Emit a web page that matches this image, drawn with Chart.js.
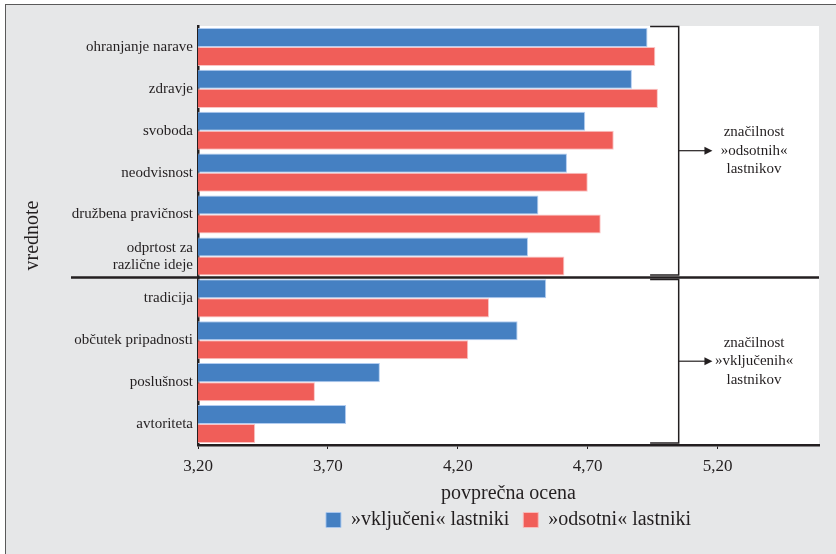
<!DOCTYPE html>
<html>
<head>
<meta charset="utf-8">
<script src="https://cdn.jsdelivr.net/npm/chart.js@4.4.1/dist/chart.umd.min.js"></script>
<style>
  body { margin: 0; background: #fff; }
  .frame { position: absolute; left: 5px; top: 4px; width: 831px; height: 550px; background: #e6e7e8;
           border-left: 1px solid #5a5a5a; border-top: 1px solid #5a5a5a; box-sizing: border-box; }
  #valuesChart { position: absolute; left: 0; top: 0; }
</style>
</head>
<body>
<div class="frame"></div>
<canvas id="valuesChart" width="836" height="554"></canvas>
<script>
  const categories = [
    'ohranjanje narave', 'zdravje', 'svoboda', 'neodvisnost', 'družbena pravičnost',
    ['odprtost za', 'različne ideje'], 'tradicija', 'občutek pripadnosti', 'poslušnost', 'avtoriteta'
  ];
  const includedOwners = [4.93, 4.87, 4.69, 4.62, 4.51, 4.47, 4.54, 4.43, 3.90, 3.77];
  const absentOwners = [4.96, 4.97, 4.80, 4.70, 4.75, 4.61, 4.32, 4.24, 3.65, 3.42];
  const seriesNames = ['»vključeni« lastniki', '»odsotni« lastniki'];
  const xTicks = [3.20, 3.70, 4.20, 4.70, 5.20];
  const groupNotes = [
    ['značilnost', '»odsotnih«', 'lastnikov'],
    ['značilnost', '»vključenih«', 'lastnikov']
  ];

  const ink = '#231f20';
  const serif = 'Liberation Serif';

  // white plot area, group separator, brackets and notes
  const groupBrackets = {
    id: 'groupBrackets',
    beforeDraw(chart) {
      const {ctx, chartArea: a} = chart;
      ctx.save();
      ctx.fillStyle = '#fff';
      ctx.fillRect(a.left, a.top, a.right - a.left, a.bottom - a.top);
      ctx.restore();
    },
    afterDraw(chart) {
      const {ctx, chartArea: a, scales: {x, y}} = chart;
      const sepY = (y.getPixelForValue(5) + y.getPixelForValue(6)) / 2;
      ctx.save();
      ctx.strokeStyle = ink;
      ctx.fillStyle = ink;
      ctx.lineWidth = 2.5;
      ctx.beginPath();
      ctx.moveTo(71, sepY);
      ctx.lineTo(a.right, sepY);
      ctx.stroke();

      const bx0 = x.getPixelForValue(4.94), bx1 = x.getPixelForValue(5.05);
      const arrowEnd = x.getPixelForValue(5.18), textX = x.getPixelForValue(5.34);
      const spans = [[a.top + 0.5, sepY - 2.5], [sepY + 2, a.bottom - 2]];
      ctx.font = '15px "' + serif + '"';
      ctx.textAlign = 'center';
      ctx.textBaseline = 'middle';
      spans.forEach(([t, b], i) => {
        ctx.lineWidth = 1.5;
        ctx.beginPath();
        ctx.moveTo(bx0, t);
        ctx.lineTo(bx1, t);
        ctx.lineTo(bx1, b);
        ctx.lineTo(bx0, b);
        ctx.stroke();
        const mid = (t + b) / 2;
        ctx.lineWidth = 1.2;
        ctx.beginPath();
        ctx.moveTo(bx1, mid);
        ctx.lineTo(arrowEnd - 6, mid);
        ctx.stroke();
        ctx.beginPath();
        ctx.moveTo(arrowEnd, mid);
        ctx.lineTo(arrowEnd - 8, mid - 4);
        ctx.lineTo(arrowEnd - 8, mid + 4);
        ctx.closePath();
        ctx.fill();
        groupNotes[i].forEach((line, k) => {
          ctx.fillText(line, textX, mid + (k - 1) * 18.5);
        });
      });
      ctx.restore();
    }
  };

  const ctxEl = document.getElementById('valuesChart');
  const valuesChart = new Chart(ctxEl, {
    type: 'bar',
    data: {
      labels: categories,
      datasets: [{
        label: seriesNames[0],
        data: includedOwners,
        backgroundColor: 'rgb(69, 128, 194)',
        borderColor: 'rgba(170, 200, 240, 0.9)',
        borderWidth: 1
      }, {
        label: seriesNames[1],
        data: absentOwners,
        backgroundColor: 'rgb(240, 94, 89)',
        borderColor: 'rgba(250, 190, 190, 0.9)',
        borderWidth: 1
      }]
    },
    options: {
      indexAxis: 'y',
      responsive: false,
      animation: false,
      categoryPercentage: 0.91,
      barPercentage: 1,
      layout: { padding: { top: 26, right: 17, left: 0, bottom: 14 } },
      plugins: {
        tooltip: { enabled: false },
        legend: {
          position: 'bottom',
          fullSize: false,
          labels: {
            color: ink,
            font: { family: serif, size: 20 },
            boxWidth: 15,
            boxHeight: 15,
            padding: 14
          }
        }
      },
      scales: {
        x: {
          min: 3.2,
          max: 5.59,
          afterBuildTicks: s => { s.ticks = xTicks.map(v => ({ value: v })); },
          afterFit: s => { s.height = 51; },
          grid: { display: true, drawOnChartArea: false, drawTicks: true, tickLength: 4, color: ink },
          border: { display: true, color: ink, width: 2.5 },
          ticks: {
            color: ink,
            padding: 9,
            font: { family: serif, size: 17, lineHeight: 1 },
            callback: v => v.toFixed(2).replace('.', ',')
          },
          title: {
            display: true,
            text: 'povprečna ocena',
            color: ink,
            font: { family: serif, size: 20, lineHeight: 1 },
            padding: { top: 9, bottom: -8 }
          }
        },
        y: {
          afterFit: s => { s.width = 198; },
          grid: { display: false, drawTicks: false },
          border: { display: true, color: ink, width: 2.5 },
          ticks: {
            color: ink,
            padding: 5,
            font: { family: serif, size: 15, lineHeight: 1.15 }
          },
          title: {
            display: true,
            text: 'vrednote',
            color: ink,
            font: { family: serif, size: 20, lineHeight: 1 },
            padding: { top: 23, bottom: 0 }
          }
        }
      }
    },
    plugins: [groupBrackets]
  });
</script>
</body>
</html>
